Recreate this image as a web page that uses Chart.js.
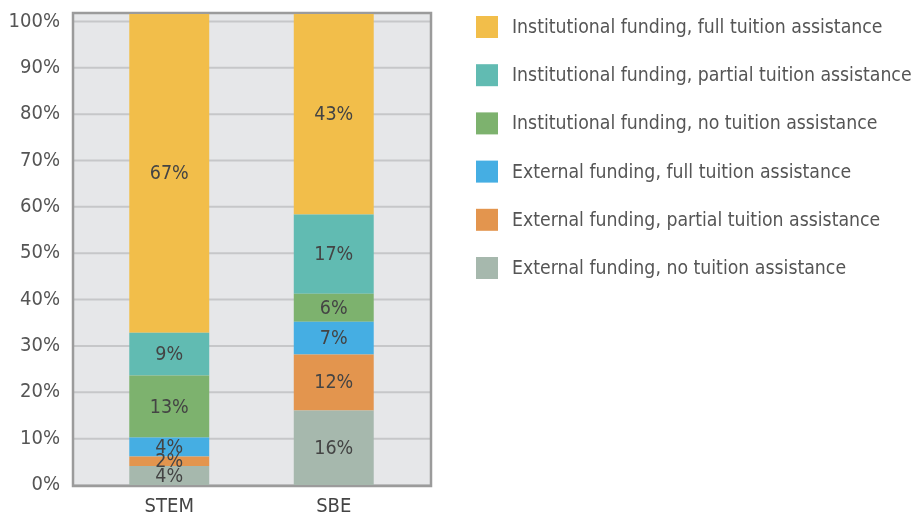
<!doctype html>
<html>
<head>
	<title>Funding and tuition assistance by field</title>
	<script src="https://cdn.jsdelivr.net/npm/chart.js"></script>
	<style>
		body { margin: 0; background: #fff; }
		#canvas-holder { width: 914px; height: 517px; }
	</style>
</head>
<body>
	<div id="canvas-holder">
		<canvas id="chart-area"></canvas>
	</div>
	<script>
		var fields = ['STEM', 'SBE'];

		// percent of students as labelled, stacked bottom to top
		var extNone = [4, 16];
		var extPartial = [2, 12];
		var extFull = [4, 7];
		var instNone = [13, 6];
		var instPartial = [9, 17];
		var instFull = [67, 43];

		var seriesNames = [
			'External funding, no tuition assistance',
			'External funding, partial tuition assistance',
			'External funding, full tuition assistance',
			'Institutional funding, no tuition assistance',
			'Institutional funding, partial tuition assistance',
			'Institutional funding, full tuition assistance'
		];
		var seriesColors = ['#a6b8ad', '#e3954e', '#45aee3', '#7db26e', '#61bbb2', '#f2be4a'];

		var yTicks = [0, 10, 20, 30, 40, 50, 60, 70, 80, 90, 100];
		var yAxisMax = 101.6; // the printed axis runs a little past 100%

		var fontFamily = '"Liberation Sans Narrow", "DejaVu Sans Condensed", sans-serif';

		var allSeries = [extNone, extPartial, extFull, instNone, instPartial, instFull];

		// 100% stacked: each column is scaled to its own total
		var totals = fields.map(function(f, j) {
			return allSeries.reduce(function(s, arr) { return s + arr[j]; }, 0);
		});

		var datasets = allSeries.map(function(arr, i) {
			return {
				label: seriesNames[i],
				data: arr.map(function(v, j) { return v / totals[j] * 100; }),
				shown: arr,
				backgroundColor: seriesColors[i]
			};
		});

		// grey plot panel, a little wider than the category range
		var framePlugin = {
			id: 'frame',
			beforeDatasetsDraw: function(chart) {
				var ctx = chart.ctx;
				var a = chart.chartArea;
				var y = chart.scales.yAxis;
				var left = a.left - 14;
				var right = a.right + 15;
				ctx.save();
				ctx.fillStyle = '#e6e7e9';
				ctx.fillRect(left, a.top, right - left, a.bottom - a.top);
				ctx.strokeStyle = '#c6c7c9';
				ctx.lineWidth = 2;
				y.ticks.forEach(function(t) {
					var py = y.getPixelForValue(t.value);
					ctx.beginPath();
					ctx.moveTo(left, py);
					ctx.lineTo(right, py);
					ctx.stroke();
				});
				ctx.strokeStyle = '#9b9b9b';
				ctx.lineWidth = 2.5;
				ctx.strokeRect(left, a.top - 1, right - left, a.bottom - a.top + 2);
				ctx.restore();
			}
		};

		// percent labels in the middle of each segment
		var labelPlugin = {
			id: 'segLabels',
			afterDatasetsDraw: function(chart) {
				var ctx = chart.ctx;
				ctx.save();
				ctx.font = '19.5px ' + fontFamily;
				ctx.fillStyle = '#444';
				ctx.textAlign = 'center';
				ctx.textBaseline = 'middle';
				chart.data.datasets.forEach(function(ds, i) {
					chart.getDatasetMeta(i).data.forEach(function(bar, j) {
						ctx.fillText(ds.shown[j] + '%', bar.x, (bar.y + bar.base) / 2 + 1);
					});
				});
				ctx.restore();
			}
		};

		// legend drawn in the space kept free on the right
		var legendPlugin = {
			id: 'sideLegend',
			afterDraw: function(chart) {
				var ctx = chart.ctx;
				var items = Chart.defaults.plugins.legend.labels.generateLabels(chart).reverse();
				var x = chart.chartArea.right + 60;
				ctx.save();
				ctx.font = '19.3px ' + fontFamily;
				ctx.textBaseline = 'middle';
				ctx.textAlign = 'left';
				items.forEach(function(item, i) {
					var top = 16 + i * 48.2;
					ctx.fillStyle = item.fillStyle;
					ctx.fillRect(x, top, 22, 22);
					ctx.fillStyle = '#555';
					ctx.fillText(item.text, x + 36, top + 12);
				});
				ctx.restore();
			}
		};

		var config = {
			type: 'bar',
			data: {
				labels: fields,
				datasets: datasets
			},
			options: {
				responsive: true,
				maintainAspectRatio: false,
				animation: false,
				layout: { padding: { left: 0, top: 14, right: 498, bottom: 0 } },
				datasets: {
					bar: { categoryPercentage: 1, barPercentage: 0.486, borderWidth: 0 }
				},
				plugins: {
					tooltip: { enabled: false },
					legend: { display: false }
				},
				scales: {
					x: {
						stacked: true,
						grid: { display: false },
						border: { display: false },
						ticks: { color: '#444', padding: 2, font: { family: fontFamily, size: 20 } },
						afterFit: function(scale) { scale.height = 32; }
					},
					y: {
						stacked: true,
						display: false,
						min: 0,
						max: 100
					},
					yAxis: {
						position: 'left',
						min: 0,
						max: yAxisMax,
						afterBuildTicks: function(scale) {
							scale.ticks = yTicks.map(function(v) { return { value: v }; });
						},
						grid: { display: false, tickLength: 27 },
						border: { display: false },
						ticks: {
							color: '#555',
							padding: 0,
							font: { family: fontFamily, size: 20 },
							callback: function(v) { return v + '%'; }
						},
						afterFit: function(scale) { scale.width = 87; }
					}
				}
			},
			plugins: [framePlugin, labelPlugin, legendPlugin]
		};

		window.onload = function() {
			var ctx = document.getElementById('chart-area').getContext('2d');
			window.myBar = new Chart(ctx, config);
		};
	</script>
</body>
</html>
